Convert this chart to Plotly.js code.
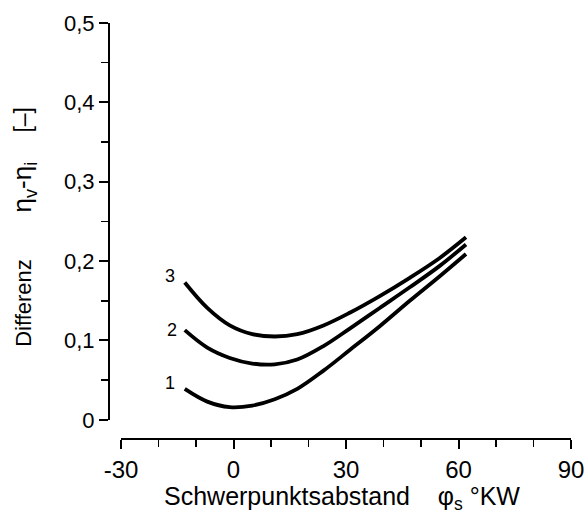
<!DOCTYPE html>
<html>
<head>
<meta charset="utf-8">
<script src="https://cdn.plot.ly/plotly-3.0.1.min.js"></script>
<style>html,body{margin:0;padding:0;background:#fff;}#chart{width:584px;height:517px;}</style>
</head>
<body>
<div id="chart"></div>
<script>
// Curve data (x in °KW, y = difference η_v - η_i)
const xs = [-13, -7, -1, 5, 11, 17, 24, 31, 39, 47, 55, 62];
const y1 = [0.039, 0.023, 0.016, 0.018, 0.026, 0.039, 0.062, 0.088, 0.118, 0.150, 0.181, 0.209];
const y2 = [0.113, 0.091, 0.078, 0.071, 0.070, 0.076, 0.093, 0.115, 0.141, 0.167, 0.194, 0.221];
const y3 = [0.173, 0.141, 0.119, 0.108, 0.105, 0.108, 0.119, 0.135, 0.156, 0.179, 0.204, 0.230];
const curveLabels = ['1', '2', '3'];
const labelX = [-17, -16.5, -17];
const labelY = [0.047, 0.113, 0.181];

const xTickVals = [-30, 0, 30, 60, 90];
const xTickText = ['-30', '0', '30', '60', '90'];
const yTickVals = [0, 0.1, 0.2, 0.3, 0.4, 0.5];
const yTickText = ['0', '0,1', '0,2', '0,3', '0,4', '0,5'];

const FONT = 'Liberation Sans, Arial, sans-serif';
const lineStyle = {color: '#000', width: 3.8, shape: 'spline', smoothing: 1};

const traces = [
  {x: xs, y: y1, mode: 'lines', line: lineStyle, hoverinfo: 'skip'},
  {x: xs, y: y2, mode: 'lines', line: lineStyle, hoverinfo: 'skip'},
  {x: xs, y: y3, mode: 'lines', line: lineStyle, hoverinfo: 'skip'}
];

const sp = (n) => '&nbsp;'.repeat(n);
const annotations = curveLabels.map((t, i) => ({
  x: labelX[i], y: labelY[i], xref: 'x', yref: 'y', text: t, showarrow: false,
  font: {family: FONT, size: 18, color: '#000'}, xanchor: 'center', yanchor: 'middle'
}));
annotations.push({
  xref: 'paper', yref: 'paper', x: -0.184, y: 0.51, textangle: -90,
  text: '<span style="font-size:22px">Differenz</span>' + sp(8) +
        '<span style="font-size:26px">η<sub>v</sub>-η<sub>i</sub></span>' + sp(5) +
        '<span style="font-size:23px">[–]</span>',
  showarrow: false, xanchor: 'center', yanchor: 'middle',
  font: {family: FONT, size: 21, color: '#000'}
});
annotations.push({
  xref: 'paper', yref: 'paper', x: 0.505, y: -0.143,
  text: 'Schwerpunktsabstand' + sp(4) + 'φ<sub>s</sub>&nbsp;°KW',
  showarrow: false, xanchor: 'center', yanchor: 'middle',
  font: {family: FONT, size: 25, color: '#000'}
});

const layout = {
  width: 584, height: 517,
  margin: {l: 109, r: 13, t: 23, b: 78},
  paper_bgcolor: '#fff', plot_bgcolor: '#fff',
  showlegend: false,
  font: {family: FONT, color: '#000'},
  xaxis: {
    range: [-30, 90], domain: [0.026, 1], anchor: 'free', position: 0,
    showline: true, linecolor: '#000', linewidth: 2,
    ticks: 'outside', ticklen: 9, tickwidth: 2, tickcolor: '#000',
    tickvals: xTickVals, ticktext: xTickText, ticklabeloverflow: 'allow',
    minor: {dtick: 10, tick0: -30, ticks: 'outside', ticklen: 7, tickwidth: 1.6, tickcolor: '#000'},
    tickfont: {family: FONT, size: 24, color: '#000'},
    showgrid: false, zeroline: false
  },
  yaxis: {
    range: [0, 0.5], domain: [0.046, 1], anchor: 'free', position: 0,
    showline: true, linecolor: '#000', linewidth: 2,
    ticks: 'outside', ticklen: 9, tickwidth: 2, tickcolor: '#000',
    tickvals: yTickVals, ticktext: yTickText, ticklabeloverflow: 'allow',
    minor: {dtick: 0.05, tick0: 0, ticks: 'outside', ticklen: 7, tickwidth: 1.6, tickcolor: '#000'},
    tickfont: {family: FONT, size: 22, color: '#000'},
    showgrid: false, zeroline: false
  },
  annotations: annotations
};

Plotly.newPlot('chart', traces, layout, {staticPlot: true, displayModeBar: false});
</script>
</body>
</html>
